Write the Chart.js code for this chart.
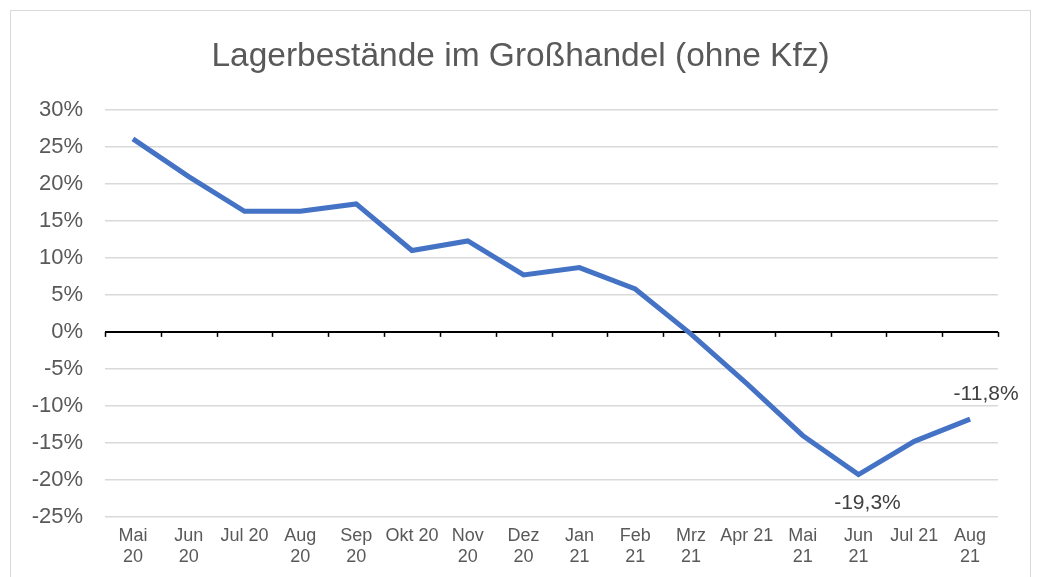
<!DOCTYPE html>
<html>
<head>
<meta charset="utf-8">
<script src="https://cdn.jsdelivr.net/npm/chart.js@4.4.0/dist/chart.umd.min.js"></script>
<style>
  html, body { margin: 0; padding: 0; background: #fff; overflow: hidden; }
  #wrap { position: relative; width: 1037px; height: 577px; }
  #frame { position: absolute; left: 10px; top: 10px; width: 1019px; height: 600px; border: 1px solid #d9d9d9; }
  canvas { position: absolute; left: 0; top: 0; }
</style>
</head>
<body>
<div id="wrap">
  <div id="frame"></div>
  <canvas id="chart" width="1037" height="577"></canvas>
</div>
<script>
// Monate (Kategorien)
const monate = [
  ['Mai', '20'], ['Jun', '20'], 'Jul 20', ['Aug', '20'], ['Sep', '20'], 'Okt 20',
  ['Nov', '20'], ['Dez', '20'], ['Jan', '21'], ['Feb', '21'], ['Mrz', '21'], 'Apr 21',
  ['Mai', '21'], ['Jun', '21'], 'Jul 21', ['Aug', '21']
];
// Veränderung der Lagerbestände in %
const werte = [26.1, 21.0, 16.3, 16.3, 17.3, 11.0, 12.3, 7.7, 8.7, 5.8, -0.3, -7.0, -14.0, -19.3, -14.8, -11.8];
// Beschriftete Punkte
const beschriftung = { 13: '-19,3%', 15: '-11,8%' };
const titel = 'Lagerbestände im Großhandel (ohne Kfz)';

const schrift = "'Liberation Sans', Arial, sans-serif";

// Titel, Nulllinie mit Teilstrichen + Datenbeschriftungen
const extras = {
  id: 'extras',
  afterDatasetsDraw(chart) {
    const ctx = chart.ctx;
    const x = chart.scales.x;
    const y = chart.scales.y;
    const y0 = y.getPixelForValue(0);
    const n = monate.length;
    const breite = (x.right - x.left) / n;
    ctx.save();
    // Titel mittig über dem ganzen Bild
    ctx.font = '33.5px ' + schrift;
    ctx.fillStyle = '#595959';
    ctx.textAlign = 'center';
    ctx.textBaseline = 'middle';
    ctx.fillText(titel, chart.width / 2 + 2, 57);

    ctx.strokeStyle = '#000';
    ctx.lineWidth = 1.5;
    for (let i = 0; i <= n; i++) {
      const px = Math.round(x.left + i * breite) + 0.5;
      ctx.beginPath();
      ctx.moveTo(px, y0);
      ctx.lineTo(px, y0 + 5);
      ctx.stroke();
    }
    const meta = chart.getDatasetMeta(0);
    ctx.font = '21px ' + schrift;
    ctx.fillStyle = '#404040';
    Object.keys(beschriftung).forEach(k => {
      const p = meta.data[k];
      if (k == 15) {
        ctx.fillText(beschriftung[k], p.x + 16, p.y - 25);
      } else {
        ctx.fillText(beschriftung[k], p.x + 9, p.y + 29);
      }
    });
    ctx.restore();
  }
};

new Chart(document.getElementById('chart').getContext('2d'), {
  type: 'line',
  data: {
    labels: monate,
    datasets: [{
      data: werte,
      borderColor: '#4472C4',
      borderWidth: 5,
      pointRadius: 0,
      tension: 0,
      fill: false
    }]
  },
  options: {
    responsive: false,
    animation: false,
    layout: { padding: { left: 10, right: 39, top: 110, bottom: 1 } },
    plugins: {
      legend: { display: false },
      tooltip: { enabled: false },
      title: { display: false }
    },
    scales: {
      x: {
        offset: true,
        grid: { display: false, drawTicks: false },
        border: { display: false },
        ticks: {
          autoSkip: false,
          maxRotation: 0,
          minRotation: 0,
          padding: 8,
          color: '#595959',
          font: { family: schrift, size: 18, lineHeight: 1.2 }
        }
      },
      y: {
        min: -25,
        max: 30,
        border: { display: false },
        grid: {
          color: c => c.tick && c.tick.value === 0 ? '#000' : '#d9d9d9',
          lineWidth: c => c.tick && c.tick.value === 0 ? 2 : 1.5,
          drawTicks: false
        },
        afterFit(scale) { scale.width = 95; },
        ticks: {
          stepSize: 5,
          padding: 22,
          color: '#595959',
          font: { family: schrift, size: 22 },
          callback: v => v + '%'
        }
      }
    }
  },
  plugins: [extras]
});
</script>
</body>
</html>
